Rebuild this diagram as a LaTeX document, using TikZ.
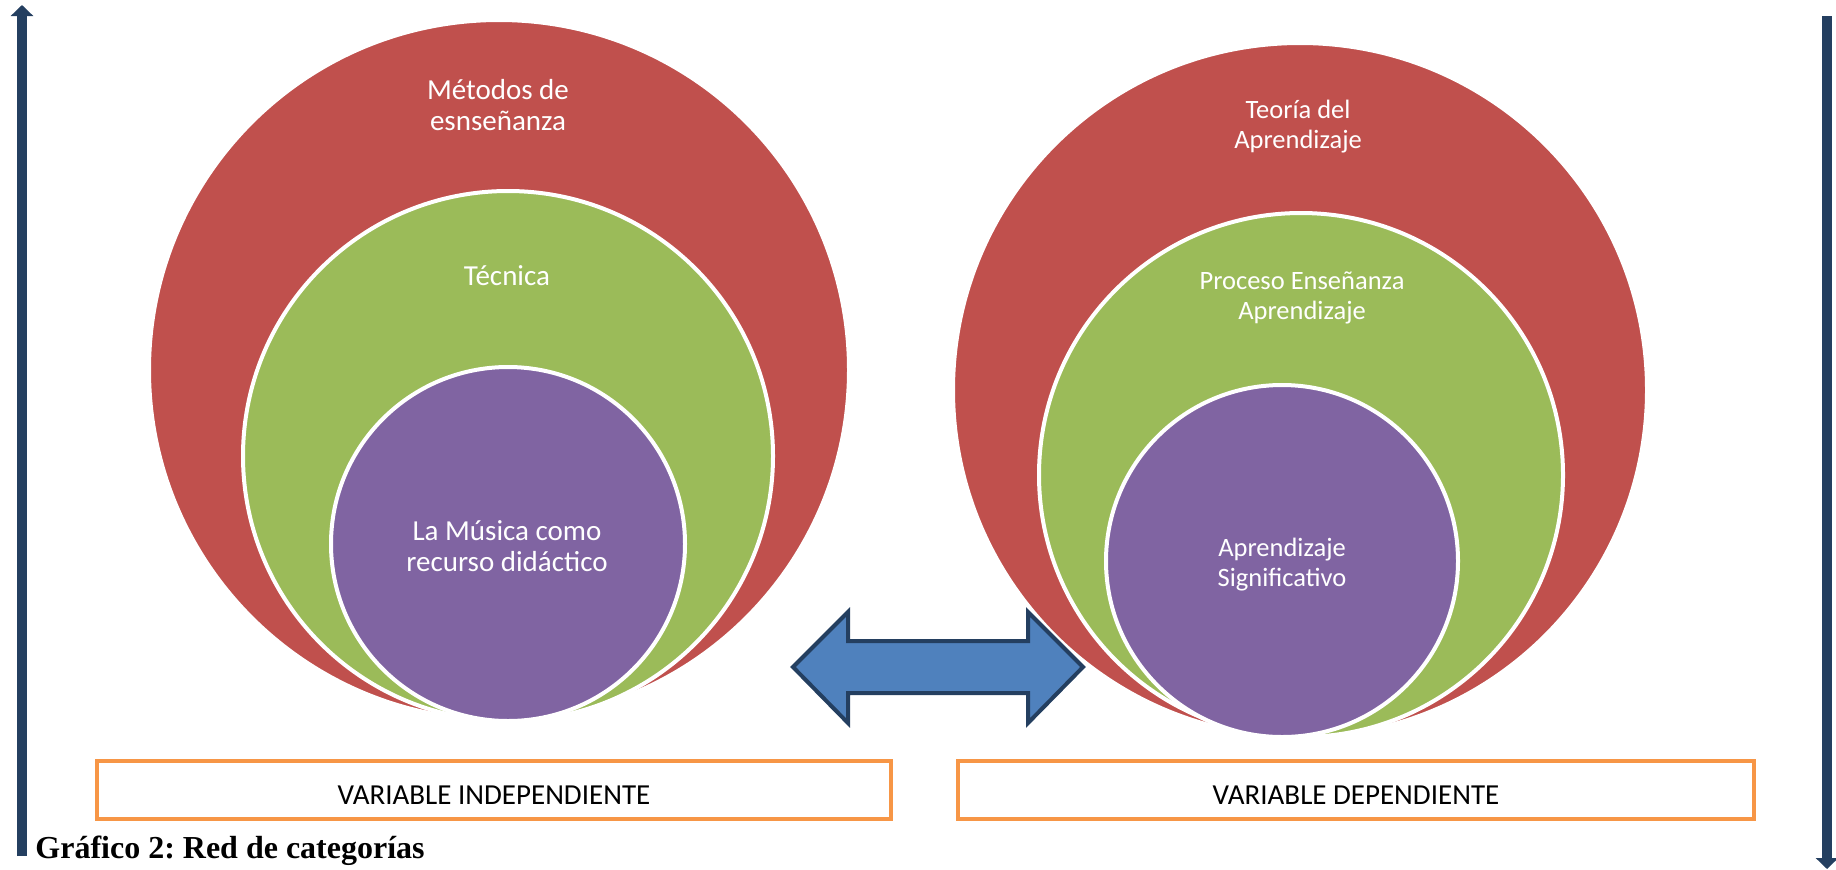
\documentclass[tikz,border=0pt]{standalone}
\usepackage{fontspec}
\setmainfont{Carlito}
\newfontfamily\captionfont{Liberation Serif}
\usetikzlibrary{arrows.meta}
\definecolor{rojo}{RGB}{192,80,77}
\definecolor{verde}{RGB}{155,187,89}
\definecolor{morado}{RGB}{128,100,162}
\definecolor{naranja}{RGB}{247,150,70}
\definecolor{azul}{RGB}{79,129,189}
\definecolor{marino}{RGB}{36,63,96}
\frenchspacing

\begin{document}
\begin{tikzpicture}
  [x=0.5pt,y=-0.5pt,every node/.style={inner sep=0pt},
   circulo/.style={circle,draw=white,line width=2pt},
   textoa/.style={text=white,align=center,font=\fontsize{14.5}{15.5}\selectfont},
   textob/.style={text=white,align=center,font=\fontsize{13.25}{15}\selectfont},
   caja/.style={draw=naranja,line width=2pt,minimum height=29pt,text height=14.3pt,text depth=0pt,font=\fontsize{14.5}{17}\selectfont},
   flecha/.style={marino,line width=5pt,-{Triangle[width=11pt,length=5.5pt]}}]
  \useasboundingbox (0,0) rectangle (1836,869);

  % variable independiente
  \node (c1)[circulo,fill=rojo,minimum size=350pt] at (499,370) {};
  \node (c2)[circulo,fill=verde,minimum size=265pt] at (508,456) {};
  \node (c3)[circulo,fill=morado,minimum size=177pt] at (508,544) {};
  \node (t1)[textoa] at (498,105) {Métodos de\\esnseñanza};
  \node (t2)[textoa] at (507,276) {Técnica};
  \node (t3)[textoa] at (507,546) {La Música como\\recurso didáctico};

  % variable dependiente
  \node (d1)[circulo,fill=rojo,minimum size=347pt] at (1300,390) {};
  \node (d2)[circulo,fill=verde,minimum size=262pt] at (1301,475) {};
  \node (d3)[circulo,fill=morado,minimum size=176pt] at (1282,561) {};
  \node (s1)[textob] at (1298,127) {Teoría del\\Aprendizaje};
  \node (s2)[textob] at (1302,298) {Proceso Enseñanza\\Aprendizaje};
  \node (s3)[textob] at (1282,565) {Aprendizaje\\Significativo};

  \node (vi)[caja,minimum width=397pt] at (494,790) {VARIABLE INDEPENDIENTE};
  \node (vd)[caja,minimum width=398pt] at (1356,790) {VARIABLE DEPENDIENTE};

  \node (tit)[anchor=base west,font=\captionfont\bfseries\fontsize{16}{19}\selectfont] at (35,858) {Gráfico 2: Red de categorías};

  % flechas
  \draw[fill=azul,draw=marino,line width=2pt,line join=miter]
    (793,667) -- (848,612) -- (848,641) -- (1028,641) -- (1028,612) -- (1083,667)
    -- (1028,723) -- (1028,693) -- (848,693) -- (848,723) -- cycle;
  \coordinate (ia) at (22,856);
  \coordinate (iz) at (22,5);
  \coordinate (da) at (1827,16);
  \coordinate (dz) at (1827,869);
  \draw[flecha] (ia) -- (iz);
  \draw[flecha] (da) -- (dz);

\end{tikzpicture}
\end{document}
